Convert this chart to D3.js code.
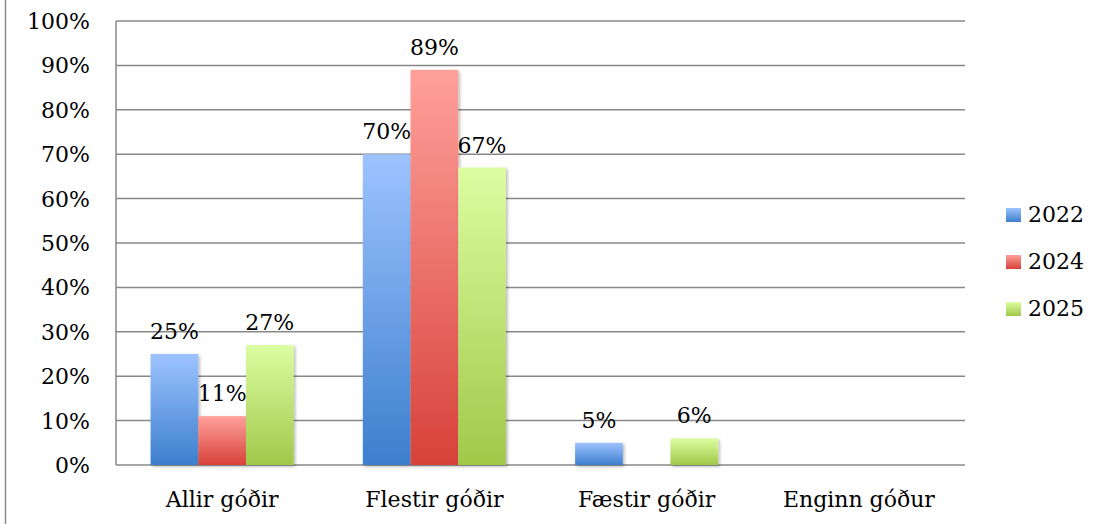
<!DOCTYPE html>
<html><head><meta charset="utf-8">
<script src="https://cdn.jsdelivr.net/npm/d3@7/dist/d3.min.js"></script>
<style>body{margin:0;background:#fff}svg{display:block}</style>
</head><body>
<svg id="c" width="1104" height="524"></svg>
<script>
const categories = ["Allir góðir", "Flestir góðir", "Fæstir góðir", "Enginn góður"];
const seriesNames = ["2022", "2024", "2025"];
const values2022 = [25, 70, 5, 0];
const values2024 = [11, 89, 0, 0];
const values2025 = [27, 67, 6, 0];
const yTicks = [0, 10, 20, 30, 40, 50, 60, 70, 80, 90, 100];

const seriesValues = [values2022, values2024, values2025];
const gradColors = [["#9dc3ff", "#3c7fcd"], ["#ffa09b", "#d7423a"], ["#dcfda1", "#a1c849"]];
const font = "DejaVu Serif";
const fs = "22px";

const svg = d3.select("#c");
const L = 116, R = 965, T = 21, B = 465;
const x0 = d3.scaleBand().domain(categories).range([L, R]);
const bw = x0.bandwidth();
const x1 = d3.scaleBand().domain(seriesNames).range([bw * 0.163, bw * 0.837]);
const y = d3.scaleLinear().domain([0, 100]).range([B, T]);

const defs = svg.append("defs");
seriesNames.forEach((s, i) => {
  const g = defs.append("linearGradient").attr("id", "g" + i)
    .attr("x1", 0).attr("y1", 0).attr("x2", 0).attr("y2", 1);
  g.append("stop").attr("offset", "0%").attr("stop-color", gradColors[i][0]);
  g.append("stop").attr("offset", "100%").attr("stop-color", gradColors[i][1]);
});
const f = defs.append("filter").attr("id", "sh").attr("x", "-20%").attr("y", "-20%").attr("width", "150%").attr("height", "150%");
f.append("feDropShadow").attr("dx", 1.5).attr("dy", 1.5).attr("stdDeviation", 1.5)
  .attr("flood-color", "#000").attr("flood-opacity", 0.3);

svg.append("line").attr("x1", 5.5).attr("x2", 5.5).attr("y1", 0).attr("y2", 524)
  .attr("stroke", "#8c8c8c").attr("stroke-width", 1.5);

svg.append("g").selectAll("line").data(yTicks).join("line")
  .attr("x1", L).attr("x2", R)
  .attr("y1", d => y(d)).attr("y2", d => y(d))
  .attr("stroke", "#888").attr("stroke-width", 1.5);
svg.append("line").attr("x1", L).attr("x2", L).attr("y1", T).attr("y2", B)
  .attr("stroke", "#888").attr("stroke-width", 1.5);

svg.append("g").selectAll("text").data(yTicks).join("text")
  .attr("x", 90).attr("y", d => y(d) + 8)
  .attr("text-anchor", "end")
  .attr("font-family", font).attr("font-size", fs).attr("fill", "#000")
  .text(d => d + "%");

const groups = svg.append("g").selectAll("g").data(categories).join("g")
  .attr("transform", c => `translate(${x0(c)},0)`);
seriesNames.forEach((s, i) => {
  groups.filter((c, ci) => seriesValues[i][ci] > 0)
    .append("rect")
    .attr("x", x1(s)).attr("width", x1.bandwidth())
    .attr("y", c => y(seriesValues[i][categories.indexOf(c)]))
    .attr("height", c => B - y(seriesValues[i][categories.indexOf(c)]))
    .attr("fill", `url(#g${i})`).attr("filter", "url(#sh)");
});
seriesNames.forEach((s, i) => {
  groups.filter((c, ci) => seriesValues[i][ci] > 0)
    .append("text")
    .attr("x", x1(s) + x1.bandwidth() / 2)
    .attr("y", c => y(seriesValues[i][categories.indexOf(c)]) - 15)
    .attr("text-anchor", "middle")
    .attr("font-family", font).attr("font-size", fs).attr("fill", "#000")
    .text(c => seriesValues[i][categories.indexOf(c)] + "%");
});

svg.append("g").selectAll("text").data(categories).join("text")
  .attr("x", c => x0(c) + bw / 2).attr("y", 507)
  .attr("text-anchor", "middle")
  .attr("font-family", font).attr("font-size", fs).attr("fill", "#000")
  .text(c => c);

const lg = svg.append("g").selectAll("g").data(seriesNames).join("g")
  .attr("transform", (d, i) => `translate(1006,${208 + i * 47})`);
lg.append("rect").attr("width", 15).attr("height", 14)
  .attr("fill", (d, i) => `url(#g${i})`);
lg.append("text").attr("x", 22).attr("y", 14)
  .attr("font-family", font).attr("font-size", fs).attr("fill", "#000")
  .text(d => d);
</script>
</body></html>
